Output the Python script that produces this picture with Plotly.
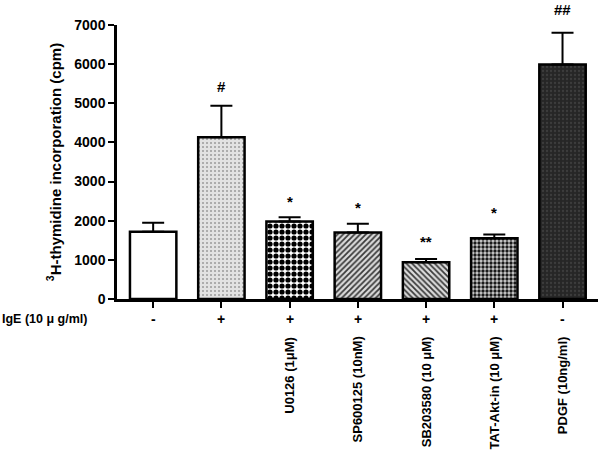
import plotly.graph_objects as go

# ---- data ----
categories = ["ctrl", "IgE", "U0126", "SP600125", "SB203580", "TAT-Akt-in", "PDGF"]
means = [1720, 4130, 1980, 1700, 940, 1550, 5990]
sem = [230, 810, 110, 220, 85, 95, 810]
ige_signs = ["-", "+", "+", "+", "+", "+", "-"]
treatment_labels = ["", "", "U0126 (1μM)", "SP600125 (10nM)", "SB203580 (10 μM)",
                    "TAT-Akt-in (10 μM)", "PDGF (10ng/ml)"]
sig_marks = ["", "#", "*", "*", "**", "*", "##"]
sig_heights = [0, 5420, 2480, 2350, 1460, 2200, 7400]
y_ticks = [0, 1000, 2000, 3000, 4000, 5000, 6000, 7000]

FONT = "Liberation Sans, Arial, sans-serif"
Y_MAX = y_ticks[-1]

pattern_shapes = ["", ".", ".", "/", "\\", ".", "."]
pattern_bg = ["white", "#e2e2e2", "white", "#dcdcdc", "#dcdcdc", "#cfcfcf", "#262626"]
pattern_fg = ["white", "#9a9a9a", "black", "#3a3a3a", "#3a3a3a", "#1a1a1a", "#3c3c3c"]
pattern_size = [6, 4, 6, 4, 4, 4, 4]
pattern_sol = [0.3, 0.2, 0.6, 0.45, 0.45, 0.55, 0.25]

fig = go.Figure()
for i in range(len(categories)):
    fig.add_trace(go.Bar(
        x=[i], y=[means[i]], width=0.68,
        marker=dict(
            color=pattern_bg[i],
            line=dict(color="black", width=2.5),
            pattern=dict(shape=pattern_shapes[i], fgcolor=pattern_fg[i],
                         bgcolor=pattern_bg[i], size=pattern_size[i],
                         solidity=pattern_sol[i], fillmode="replace"),
        ),
        error_y=dict(type="data", symmetric=False, array=[sem[i]], arrayminus=[0],
                     color="black", thickness=2, width=11),
        showlegend=False,
    ))

annotations = []
for i, (m, h) in enumerate(zip(sig_marks, sig_heights)):
    if m:
        annotations.append(dict(x=i, y=h / Y_MAX, xref="x", yref="paper", text=m,
                                showarrow=False,
                                font=dict(size=15, family=FONT, weight="bold"),
                                yanchor="middle"))
for i, s in enumerate(ige_signs):
    annotations.append(dict(x=i, y=-0.073, xref="x", yref="paper", text=s, showarrow=False,
                            font=dict(size=14, family=FONT, weight="bold"), yanchor="middle"))
for i, lab in enumerate(treatment_labels):
    if lab:
        annotations.append(dict(x=i, y=-0.13, xref="x", yref="paper", text=lab,
                                showarrow=False, textangle=-90, yanchor="top",
                                font=dict(size=13, family=FONT, weight="bold")))
annotations.append(dict(x=-0.243, y=-0.073, xref="paper", yref="paper",
                        text="IgE (10 μ g/ml)", showarrow=False, xanchor="left",
                        yanchor="middle", font=dict(size=12.5, family=FONT, weight="bold")))

fig.update_layout(
    width=600, height=468,
    margin=dict(l=117, r=2, t=25, b=169),
    paper_bgcolor="white", plot_bgcolor="white",
    font=dict(family=FONT, size=14, color="black", weight="bold"),
    annotations=annotations,
)
fig.update_xaxes(range=[-0.53, 6.52], tickvals=list(range(len(categories))),
                 showticklabels=False,
                 ticks="outside", ticklen=6, tickwidth=2, tickcolor="black",
                 showline=True, linecolor="black", linewidth=2.5,
                 showgrid=False, zeroline=False)
fig.update_yaxes(range=[0, Y_MAX], tickvals=y_ticks, ticks="outside", ticklen=6,
                 tickwidth=2, tickcolor="black", showline=True, linecolor="black",
                 linewidth=2.5, showgrid=False, zeroline=False,
                 tickfont=dict(size=14, family=FONT, weight="bold"),
                 title=dict(text="<sup>3</sup>H-thymidine incorporation (cpm)",
                            font=dict(size=15, family=FONT, weight="bold"), standoff=10))

fig.write_html("out.html", config={"displayModeBar": False},
               post_script="document.body.style.margin='0';"
                           "document.documentElement.style.overflow='hidden';")
